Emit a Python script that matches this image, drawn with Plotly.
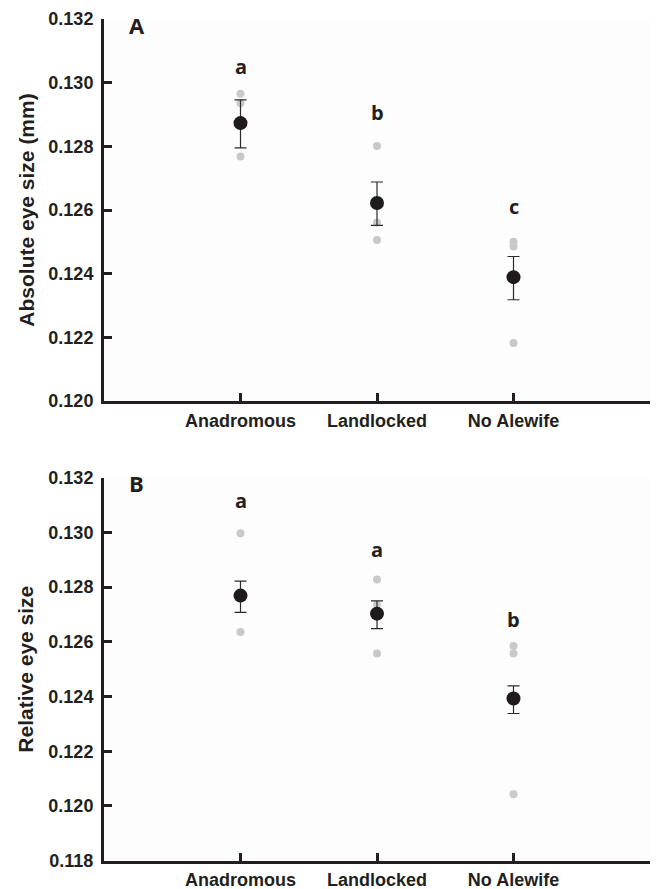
import plotly.graph_objects as go

categories = ["Anadromous", "Landlocked", "No Alewife"]
xpos = [1, 2, 3]

# Panel A: absolute eye size (mm)
a_mean = [0.12873, 0.12622, 0.12389]
a_err_top = [0.12946, 0.12688, 0.12454]
a_err_bot = [0.12795, 0.12552, 0.12318]
a_pts_x = [1, 1, 1, 2, 2, 2, 3, 3, 3]
a_pts_y = [0.12965, 0.12935, 0.12768, 0.12801, 0.12561, 0.12506, 0.12500, 0.12485, 0.12182]
a_letters = ["a", "b", "c"]
a_letter_y = [0.13050, 0.12905, 0.12610]

# Panel B: relative eye size
b_mean = [0.12769, 0.12703, 0.12393]
b_err_top = [0.12822, 0.12750, 0.12439]
b_err_bot = [0.12708, 0.12648, 0.12338]
b_pts_x = [1, 1, 2, 2, 2, 3, 3, 3]
b_pts_y = [0.12997, 0.12636, 0.12828, 0.12736, 0.12557, 0.12585, 0.12557, 0.12043]
b_letters = ["a", "a", "b"]
b_letter_y = [0.13118, 0.12936, 0.12680]

a_ticks = [0.120, 0.122, 0.124, 0.126, 0.128, 0.130, 0.132]
b_ticks = [0.118, 0.120, 0.122, 0.124, 0.126, 0.128, 0.130, 0.132]

W, H = 658, 889
axis_col = "#231f20"
font_fam = "Liberation Sans, Arial, sans-serif"
letter_fam = "Open Sans, sans-serif"

fig = go.Figure()

def add_panel(xa, ya, mean, top, bot, px, py):
    fig.add_trace(go.Scatter(x=px, y=py, mode="markers", xaxis=xa, yaxis=ya,
                             marker=dict(size=8, color="#c8c9cb"), showlegend=False,
                             hoverinfo="skip"))
    fig.add_trace(go.Scatter(
        x=xpos, y=mean, mode="markers", xaxis=xa, yaxis=ya, showlegend=False,
        marker=dict(size=14, color="#1f1a1b"),
        error_y=dict(type="data", symmetric=False,
                     array=[t - m for t, m in zip(top, mean)],
                     arrayminus=[m - b for m, b in zip(mean, bot)],
                     color="#2b2b2b", thickness=1.2, width=6)))

add_panel("x", "y", a_mean, a_err_top, a_err_bot, a_pts_x, a_pts_y)
add_panel("x2", "y2", b_mean, b_err_top, b_err_bot, b_pts_x, b_pts_y)

xdom = [104 / W, 650 / W]
ydomA = [1 - 401 / H, 1 - 19 / H]
ydomB = [1 - 860.7 / H, 1 - 477.7 / H]

tickfont = dict(family=font_fam, size=18, color="#231f20", weight="bold")
titlefont = dict(family=font_fam, size=21, color="#231f20", weight="bold")

common_x = dict(range=[0, 4], tickvals=xpos, ticktext=categories, showline=True,
                linewidth=3, linecolor=axis_col, ticks="inside", ticklen=8, tickwidth=2.5,
                tickcolor=axis_col, showgrid=False, zeroline=False, tickfont=tickfont,
                ticklabelstandoff=1, fixedrange=True, automargin=False)
common_y = dict(showline=True, linewidth=3, linecolor=axis_col, ticks="inside", ticklen=8,
                tickwidth=2.5, tickcolor=axis_col, showgrid=False, zeroline=False,
                tickfont=tickfont, tickformat=".3f", ticklabelstandoff=4, fixedrange=True,
                automargin=False)

fig.update_layout(
    width=W, height=H, margin=dict(l=0, r=0, t=0, b=0, autoexpand=False),
    paper_bgcolor="white", plot_bgcolor="#fdfdfd",
    xaxis=dict(domain=xdom, anchor="y", **common_x),
    xaxis2=dict(domain=xdom, anchor="y2", **common_x),
    yaxis=dict(domain=ydomA, anchor="x", range=[0.120, 0.132], tickvals=a_ticks,
               title=dict(text="Absolute eye size (mm)", font=titlefont, standoff=9),
               **common_y),
    yaxis2=dict(domain=ydomB, anchor="x2", range=[0.118, 0.132], tickvals=b_ticks,
                title=dict(text="Relative eye size", font=titlefont, standoff=9),
                **common_y),
)

letter_font = dict(family=letter_fam, size=20, color="#231f20", weight="bold")
for xv, t, yv in zip(xpos, a_letters, a_letter_y):
    fig.add_annotation(x=xv, y=yv, xref="x", yref="y", text=t, showarrow=False, font=letter_font)
for xv, t, yv in zip(xpos, b_letters, b_letter_y):
    fig.add_annotation(x=xv, y=yv, xref="x2", yref="y2", text=t, showarrow=False, font=letter_font)

panel_font = dict(family=letter_fam, size=22, color="#231f20", weight="bold")
fig.add_annotation(x=0.06, y=0.984, xref="x domain", yref="y domain", text="A", showarrow=False,
                   xanchor="center", yanchor="middle", font=panel_font)
fig.add_annotation(x=0.06, y=0.986, xref="x2 domain", yref="y2 domain", text="B", showarrow=False,
                   xanchor="center", yanchor="middle", font=panel_font)

fig.write_html("out.html")
